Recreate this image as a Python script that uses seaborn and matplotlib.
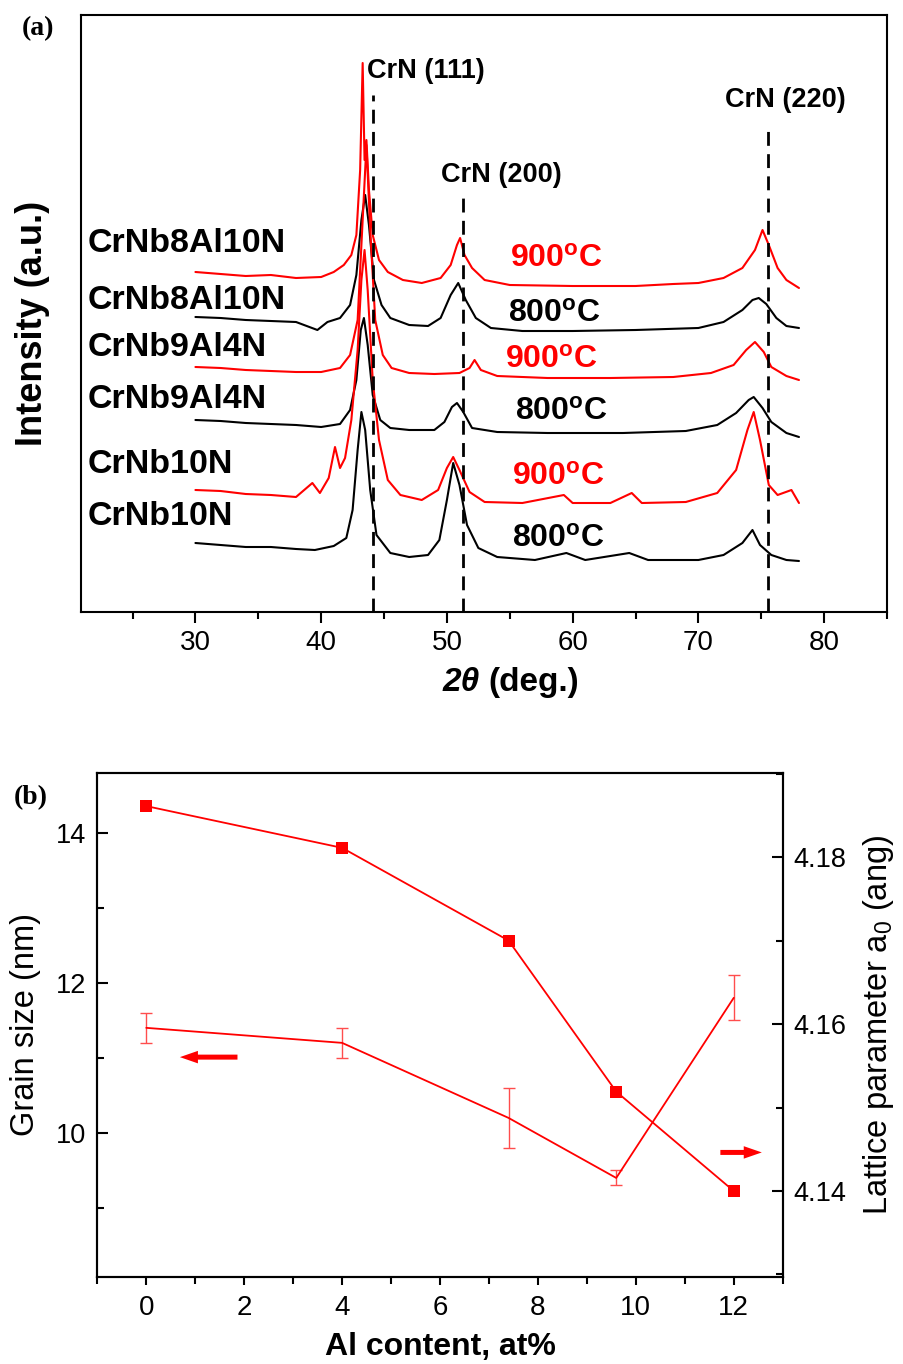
import matplotlib
matplotlib.use("Agg")
import matplotlib.pyplot as plt
import seaborn as sns
from matplotlib.ticker import MultipleLocator

# XRD patterns (2theta in deg, intensity in a.u. incl. stacking offset)
tt_a = [30, 32, 34, 36, 38, 40, 41, 41.8, 42.4, 42.8, 43.1, 43.3, 43.45, 43.6, 43.8, 44.1, 44.6, 45.3, 46.5, 48,
        49.5, 50.3, 50.8, 51.05, 51.4, 52, 53, 55, 60, 65, 68, 70, 72, 73.5, 74.5, 75.1, 75.6, 76.3, 77, 78]
int_a = [339, 337, 335, 336, 333, 334, 339, 346, 356, 376, 441, 548, 451, 471, 421, 376, 351, 339, 331, 328,
         333, 346, 366, 373, 356, 343, 331, 326, 325, 325, 327, 328, 333, 343, 361, 381, 366, 343, 331, 323]

tt_b = [30, 32, 34, 36, 38, 39.7, 40.5, 41.5, 42.3, 42.8, 43.2, 43.5, 43.8, 44.2, 44.8, 45.5, 47, 48.5,
        49.5, 50.3, 50.9, 51.5, 52.3, 53.5, 56, 60, 65, 70, 72, 73.5, 74.3, 74.8, 75.4, 76.2, 77, 78]
int_b = [294, 293, 291, 290, 289, 281, 289, 293, 306, 336, 391, 416, 386, 331, 306, 293, 286, 285,
         293, 316, 328, 311, 293, 283, 280, 280, 281, 283, 289, 301, 311, 313, 307, 293, 285, 283]

tt_c = [30, 32, 34, 36, 38, 40, 41.5, 42.3, 42.9, 43.3, 43.6, 43.9, 44.3, 44.9, 45.6, 47, 49, 51, 51.8,
        52.2, 52.7, 54, 58, 63, 68, 71, 72.8, 73.8, 74.5, 75.2, 75.8, 77, 78]
int_c = [244, 243, 241, 240, 239, 239, 243, 256, 291, 391, 466, 381, 291, 256, 243, 238, 237, 238, 243,
         251, 241, 235, 233, 233, 234, 238, 246, 261, 269, 259, 244, 235, 231]

tt_d = [30, 32, 34, 36, 38, 40, 41.5, 42.3, 42.8, 43.15, 43.4, 43.7, 44.1, 44.7, 45.5, 47, 49, 49.8, 50.4,
        50.8, 51.3, 52, 54, 58, 64, 69, 71.5, 73, 74, 74.4, 75.1, 75.8, 77, 78]
int_d = [191, 190, 188, 187, 186, 184, 187, 201, 231, 281, 293, 266, 216, 191, 183, 181, 181, 189, 204,
         208, 199, 183, 179, 178, 178, 180, 186, 198, 211, 214, 203, 189, 178, 174]

tt_e = [30, 32, 34, 36, 38, 39.3, 39.9, 40.6, 41.1, 41.5, 41.9, 42.4, 42.9, 43.2, 43.45, 43.7, 44.1, 44.6,
        45.3, 46.3, 48, 49.3, 50, 50.5, 51, 51.8, 53, 56, 59.3, 60, 63, 64.7, 65.5, 69, 71.5, 73, 73.9,
        74.4, 74.9, 75.6, 76.3, 77.4, 78]
int_e = [121, 120, 117, 116, 114, 128, 118, 133, 164, 143, 153, 191, 261, 331, 361, 321, 231, 171,
         131, 116, 111, 121, 143, 154, 141, 119, 109, 108, 116, 108, 108, 118, 108, 109, 118, 141, 181,
         199, 171, 126, 116, 121, 108]

tt_f = [30, 32, 34, 36, 38, 39.5, 41, 42, 42.5, 42.9, 43.2, 43.5, 43.9, 44.4, 45.5, 47, 48.5, 49.4, 50,
        50.5, 51, 51.6, 52.5, 54, 57, 59.5, 61, 64.5, 66, 70, 72, 73.5, 74.3, 74.9, 75.8, 77, 78]
int_f = [68, 66, 64, 64, 62, 61, 65, 73, 101, 161, 199, 181, 121, 76, 58, 54, 56, 71, 111,
         148, 126, 86, 63, 54, 51, 58, 51, 58, 51, 51, 56, 68, 81, 66, 56, 51, 50]

samples = ["CrNb8Al10N", "CrNb8Al10N", "CrNb9Al4N", "CrNb9Al4N", "CrNb10N", "CrNb10N"]
temps = [r"900$^{\mathbf{o}}$C", r"800$^{\mathbf{o}}$C", r"900$^{\mathbf{o}}$C",
         r"800$^{\mathbf{o}}$C", r"900$^{\mathbf{o}}$C", r"800$^{\mathbf{o}}$C"]
curve_colors = ["red", "black", "red", "black", "red", "black"]

ref_names = ["CrN (111)", "CrN (200)", "CrN (220)"]
ref_pos = [44.1, 51.3, 75.55]
ref_top = [516, 421, 483]

# panel (b)
al_content = [0, 4, 7.4, 9.6, 12]
grain_size = [11.4, 11.2, 10.2, 9.4, 11.8]
grain_err = [0.2, 0.2, 0.4, 0.1, 0.3]
lattice = [4.1861, 4.1811, 4.1700, 4.1519, 4.1400]

W, H = 904, 1364

sns.set_style("ticks")
plt.rcParams['font.family'] = ['Liberation Sans', 'DejaVu Sans']
plt.rcParams['mathtext.fontset'] = 'custom'
plt.rcParams['mathtext.rm'] = 'Liberation Sans'
plt.rcParams['mathtext.it'] = 'Liberation Sans:italic'
plt.rcParams['mathtext.bf'] = 'Liberation Sans:bold'
for key in ['axes.edgecolor', 'xtick.color', 'ytick.color', 'text.color', 'axes.labelcolor']:
    plt.rcParams[key] = 'black'
narrow = ['Liberation Sans Narrow', 'Liberation Sans']


def fxy(x, y):
    return x / W, 1 - y / H


fig = plt.figure(figsize=(W / 100, H / 100), dpi=100)

# ---------- panel (a) ----------
ax = fig.add_axes([81 / W, 1 - 612 / H, (887 - 81) / W, (612 - 14.5) / H])
curves = [(tt_a, int_a), (tt_b, int_b), (tt_c, int_c), (tt_d, int_d), (tt_e, int_e), (tt_f, int_f)]
for (tt, inten), c in zip(curves, curve_colors):
    sns.lineplot(x=tt, y=inten, ax=ax, color=c, lw=1.5)
ax.vlines(ref_pos, -1, ref_top, colors='black', linestyles=(0, (5, 3)), lw=2)
ax.set_xlim(20.9, 85)
ax.set_ylim(-1, 596.5)
ax.set_yticks([])
ax.xaxis.set_major_locator(MultipleLocator(10))
ax.xaxis.set_minor_locator(MultipleLocator(5))
ax.tick_params(axis='x', which='major', direction='out', length=8, width=1.5, labelsize=20, pad=5)
ax.tick_params(axis='x', which='minor', direction='out', length=5, width=1.5)
for lbl in ax.get_xticklabels():
    lbl.set_family(narrow)
for s in ax.spines.values():
    s.set_linewidth(1.5)
    s.set_visible(True)

name_y = [252, 309, 356, 408, 473, 525]
temp_x = [510, 508, 505, 515, 512, 512]
temp_y = [267, 322, 368, 420, 485, 547]
for i in range(6):
    fig.text(*fxy(88, name_y[i]), samples[i], fontsize=24.5, fontweight='bold', va='baseline')
    fig.text(*fxy(temp_x[i], temp_y[i]), temps[i], fontsize=23, fontweight='bold',
             color=curve_colors[i], va='baseline')

ref_lbl = [(367, 78), (441, 182), (725, 107)]
for name, (lx, ly) in zip(ref_names, ref_lbl):
    fig.text(*fxy(lx, ly), name, fontsize=19.5, fontweight='bold', va='baseline')

fig.text(*fxy(33, 323), "Intensity (a.u.)", fontsize=26, fontweight='bold', rotation=90,
         ha='center', va='center')
fig.text(*fxy(480, 691), "2θ", fontsize=24, fontweight='bold', style='italic', ha='right', va='baseline')
fig.text(*fxy(488, 691), "(deg.)", fontsize=24, fontweight='bold', ha='left', va='baseline')
fig.text(*fxy(22, 35), "(a)", fontsize=20, fontweight='bold', family='Liberation Serif', va='baseline')

# ---------- panel (b) ----------
axb = fig.add_axes([97.3 / W, 1 - 1277 / H, (782.7 - 97.3) / W, (1277 - 772.7) / H])
axb.errorbar(al_content, grain_size, yerr=grain_err, color='red', lw=1.3,
             ecolor='#ff4d4d', elinewidth=1.0, capsize=4, capthick=1.0)
axb.set_xlim(-1, 13)
axb.set_ylim(8.08, 14.8)
axb.xaxis.set_major_locator(MultipleLocator(2))
axb.xaxis.set_minor_locator(MultipleLocator(1))
axb.yaxis.set_major_locator(MultipleLocator(2))
axb.yaxis.set_minor_locator(MultipleLocator(1))
axb.tick_params(axis='x', which='major', direction='out', length=6, width=1.5, labelsize=20, pad=7)
axb.tick_params(axis='x', which='minor', direction='out', length=5, width=1.5)
axb.tick_params(axis='y', which='major', direction='in', length=8, width=1.5, labelsize=19.5, pad=8)
axb.tick_params(axis='y', which='minor', direction='in', length=5, width=1.5)
for lbl in axb.get_xticklabels():
    lbl.set_family(narrow)
axb.set_xlabel("Al content, at%", fontsize=23, fontweight='bold', labelpad=8)
axb.set_ylabel("Grain size (nm)", fontsize=23.5, labelpad=11)

axr = axb.twinx()
sns.lineplot(x=al_content, y=lattice, ax=axr, color='red', lw=1.3, marker='s',
             markersize=8, markeredgecolor='red', markeredgewidth=0)
axr.set_ylim(4.1297, 4.1901)
axr.yaxis.set_major_locator(MultipleLocator(0.02))
axr.yaxis.set_minor_locator(MultipleLocator(0.01))
axr.tick_params(axis='y', which='major', direction='in', length=8, width=1.5, labelsize=19.5, pad=8)
axr.tick_params(axis='y', which='minor', direction='in', length=5, width=1.5)
axr.set_ylabel(r"Lattice parameter a$_\mathregular{0}$ (ang)", fontsize=23.5, labelpad=10)
for a in (axb, axr):
    for s in a.spines.values():
        s.set_linewidth(1.5)
        s.set_visible(True)

arrow = dict(arrowstyle='simple,head_length=0.65,head_width=0.45,tail_width=0.18',
             color='red', mutation_scale=20, lw=0)
axb.annotate('', xy=(0.63, 11.01), xytext=(1.92, 11.01), arrowprops=arrow)
axb.annotate('', xy=(12.63, 9.74), xytext=(11.67, 9.74), arrowprops=arrow)

fig.text(*fxy(14, 804), "(b)", fontsize=20, fontweight='bold', family='Liberation Serif', va='baseline')

fig.savefig("out.png", dpi=100)
